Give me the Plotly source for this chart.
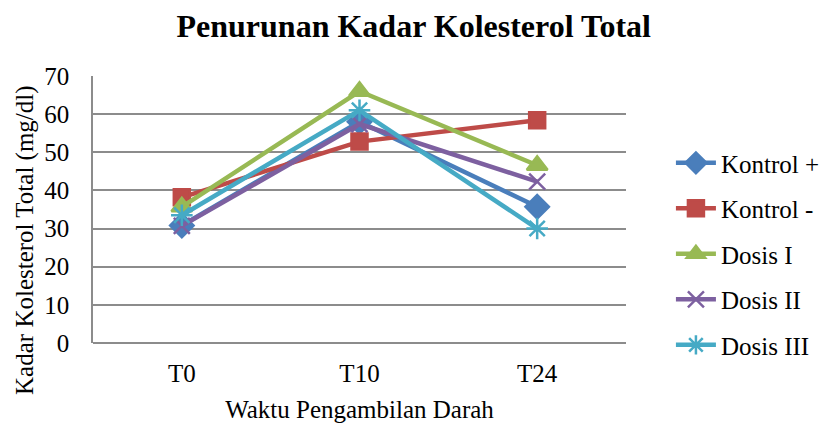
import plotly.graph_objects as go

categories = ["T0", "T10", "T24"]
kontrol_plus = [30.8, 58.0, 35.7]
kontrol_minus = [38.2, 52.8, 58.4]
dosis_1 = [35.7, 66.0, 46.6]
dosis_2 = [30.7, 57.4, 42.3]
dosis_3 = [33.5, 61.0, 30.0]

series = [
    ("Kontrol +", kontrol_plus, "#4A7EBB", "diamond", 18),
    ("Kontrol -", kontrol_minus, "#BE4B48", "square", 16),
    ("Dosis I", dosis_1, "#98B954", "triangle-up", 18),
    ("Dosis II", dosis_2, "#7D60A0", "x-thin", 16),
    ("Dosis III", dosis_3, "#46AAC5", "asterisk", 18),
]

fig = go.Figure()
for i, (name, vals, color, sym, size) in enumerate(series):
    fig.add_trace(go.Scatter(
        x=categories, y=vals, name=name, mode="lines+markers",
        line=dict(color=color, width=4.5),
        marker=dict(symbol=sym, size=size, color=color,
                    line=dict(color=color, width=2.5)),
        legendgroup=f"g{i}",
    ))

font_family = "Liberation Serif, Times New Roman, serif"
fig.update_layout(
    width=823, height=418,
    margin=dict(l=85, r=205, t=68, b=83, autoexpand=False),
    paper_bgcolor="white", plot_bgcolor="white",
    font=dict(family=font_family, size=25, color="black"),
    title=dict(text="<b>Penurunan Kadar Kolesterol Total</b>",
               x=0.493, xanchor="center", y=0.957, yanchor="middle",
               font=dict(size=32, family=font_family, color="black")),
    xaxis=dict(showgrid=False, showline=False, ticks="", automargin=False,
               tickfont=dict(size=25), ticklabelstandoff=13,
               title=dict(text="Waktu Pengambilan Darah", standoff=14,
                          font=dict(size=25)),
               range=[-0.5, 2.5]),
    yaxis=dict(range=[0, 70], dtick=10, showgrid=True, gridcolor="#8C8C8C",
               gridwidth=1.5, showline=True, linecolor="#8C8C8C", linewidth=1.5,
               zeroline=True, zerolinecolor="#8C8C8C", zerolinewidth=1.5,
               ticks="", tickfont=dict(size=25), ticklabelstandoff=17,
               automargin=False),
    annotations=[dict(text="Kadar Kolesterol Total (mg/dl)", textangle=-90,
                      xref="paper", yref="paper", x=0, y=0.386,
                      xanchor="center", yanchor="middle", xshift=-68,
                      showarrow=False, font=dict(size=25, family=font_family,
                                                 color="black"))],
    legend=dict(xref="container", yref="container", x=0.8055, xanchor="left",
                y=0.684, yanchor="top", maxheight=400,
                font=dict(size=25), tracegroupgap=10, itemwidth=40,
                bgcolor="rgba(0,0,0,0)"),
    showlegend=True,
)

fig.write_html("out.html")
